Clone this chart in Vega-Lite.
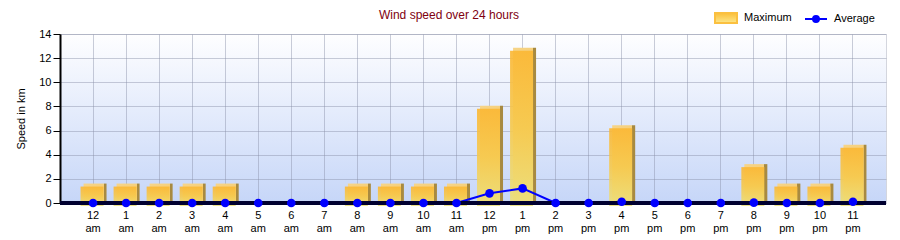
{
  "$schema": "https://vega.github.io/schema/vega-lite/v6.json",
  "width": 826,
  "height": 169,
  "autosize": {"type": "none"},
  "padding": {"left": 60, "top": 34, "right": 14, "bottom": 37},
  "background": "#ffffff",
  "config": {
    "font": "Liberation Sans",
    "view": {
      "stroke": "#d4d6de",
      "strokeWidth": 1,
      "fill": {"gradient": "linear", "x1": 0, "y1": 0, "x2": 0, "y2": 1,
        "stops": [{"offset": 0, "color": "#fefeff"}, {"offset": 1, "color": "#c6d6f8"}]}
    },
    "axisY": {
      "titleFontSize": 11, "titleFontWeight": "normal", "titleColor": "#000000", "titlePadding": 12,
      "labelFontSize": 11, "labelColor": "#000000", "labelPadding": 2, "labelOverlap": false,
      "tickSize": 7, "tickColor": "#000000", "domainColor": "#000000", "domainWidth": 2,
      "gridColor": "#8a90a8", "gridOpacity": 0.45, "gridWidth": 1
    }
  },
  "title": {
    "text": "Wind speed over 24 hours",
    "fontSize": 12,
    "fontWeight": "normal",
    "color": "#800010",
    "anchor": "middle",
    "dx": -24,
    "offset": -16
  },
  "data": {
    "values": [
      {"hour": "12 am", "max": 1.61, "avg": 0},
      {"hour": "1 am", "max": 1.61, "avg": 0},
      {"hour": "2 am", "max": 1.61, "avg": 0},
      {"hour": "3 am", "max": 1.61, "avg": 0},
      {"hour": "4 am", "max": 1.61, "avg": 0},
      {"hour": "5 am", "max": 0, "avg": 0},
      {"hour": "6 am", "max": 0, "avg": 0},
      {"hour": "7 am", "max": 0, "avg": 0},
      {"hour": "8 am", "max": 1.61, "avg": 0},
      {"hour": "9 am", "max": 1.61, "avg": 0},
      {"hour": "10 am", "max": 1.61, "avg": 0},
      {"hour": "11 am", "max": 1.61, "avg": 0},
      {"hour": "12 pm", "max": 8.05, "avg": 0.8},
      {"hour": "1 pm", "max": 12.87, "avg": 1.21},
      {"hour": "2 pm", "max": 0, "avg": 0},
      {"hour": "3 pm", "max": 0, "avg": 0},
      {"hour": "4 pm", "max": 6.44, "avg": 0.1},
      {"hour": "5 pm", "max": 0, "avg": 0},
      {"hour": "6 pm", "max": 0, "avg": 0},
      {"hour": "7 pm", "max": 0, "avg": 0},
      {"hour": "8 pm", "max": 3.22, "avg": 0.03},
      {"hour": "9 pm", "max": 1.61, "avg": 0},
      {"hour": "10 pm", "max": 1.61, "avg": 0},
      {"hour": "11 pm", "max": 4.83, "avg": 0.1}
    ]
  },
  "encoding": {
    "x": {
      "field": "hour", "type": "nominal",
      "scale": {"paddingInner": 0, "paddingOuter": 0.5,
        "domain": ["12 am", "1 am", "2 am", "3 am", "4 am", "5 am", "6 am", "7 am", "8 am", "9 am", "10 am", "11 am",
                   "12 pm", "1 pm", "2 pm", "3 pm", "4 pm", "5 pm", "6 pm", "7 pm", "8 pm", "9 pm", "10 pm", "11 pm"]},
      "axis": {
        "title": null, "labelAngle": 0, "ticks": false, "domain": false,
        "grid": true, "gridColor": "#8a90a8", "gridOpacity": 0.45, "gridWidth": 1, "bandPosition": 0.5,
        "labelExpr": "split(datum.label, ' ')",
        "labelFontSize": 11, "labelColor": "#000000", "labelLineHeight": 13,
        "labelPadding": 6
      }
    }
  },
  "layer": [
    {
      "transform": [{"filter": "datum.max > 0"}],
      "mark": {
        "type": "bar", "size": 23, "xOffset": 2,
        "fill": {"gradient": "linear", "x1": 0, "y1": 0, "x2": 1, "y2": 0,
          "stops": [
            {"offset": 0, "color": "#f6d488"},
            {"offset": 0.87, "color": "#f6d07c"},
            {"offset": 0.875, "color": "#a88a40"},
            {"offset": 1, "color": "#a88a40"}
          ]}
      },
      "encoding": {
        "y": {"field": "max", "type": "quantitative",
          "scale": {"domain": [0, 14], "nice": false},
          "axis": {"title": "Speed in km", "values": [0, 2, 4, 6, 8, 10, 12, 14]}
        }
      }
    },
    {
      "transform": [{"filter": "datum.max > 0"}],
      "mark": {
        "type": "bar", "size": 23, "xOffset": -1, "yOffset": 3, "fillOpacity": 0.9,
        "fill": {"gradient": "linear", "x1": 0, "y1": 0, "x2": 0, "y2": 1,
          "stops": [
            {"offset": 0, "color": "#fbb733"},
            {"offset": 0.5, "color": "#f6c94c"},
            {"offset": 1, "color": "#ebe07c"}
          ]}
      },
      "encoding": {"y": {"field": "max", "type": "quantitative",
        "axis": {"title": "Speed in km", "values": [0, 2, 4, 6, 8, 10, 12, 14]}}}
    },
    {
      "mark": {"type": "line", "strokeWidth": 2},
      "encoding": {
        "y": {"field": "avg", "type": "quantitative",
          "axis": {"title": "Speed in km", "values": [0, 2, 4, 6, 8, 10, 12, 14]}},
        "color": {
          "datum": "Average",
          "scale": {"domain": ["Maximum", "Average"], "range": ["#fbc040", "#0000ff"]},
          "legend": {
            "title": null, "orient": "none", "direction": "horizontal",
            "legendX": 654, "legendY": -28, "padding": 0,
            "symbolSize": 484, "labelFontSize": 11, "labelColor": "#000000",
            "labelOffset": 6, "columnPadding": 9,
            "encode": {
              "symbols": {
                "update": {
                  "shape": {"signal": "datum.value === 'Maximum' ? 'M-1,-0.45H1V0.45H-1Z' : 'M-1,0H1M0.27,0A0.27,0.27 0 1,1 -0.27,0A0.27,0.27 0 1,1 0.27,0'"},
                  "fill": {"signal": "datum.value === 'Maximum' ? {gradient: 'linear', x1: 0, y1: 0, x2: 0, y2: 1, stops: [{offset: 0, color: '#fbbf3a'}, {offset: 1, color: '#fce78a'}]} : '#0000ff'"},
                  "stroke": {"signal": "datum.value === 'Maximum' ? null : '#0000ff'"},
                  "strokeWidth": {"value": 2},
                  "opacity": {"value": 1},
                  "fillOpacity": {"value": 1}
                }
              }
            }
          }
        }
      }
    },
    {
      "mark": {"type": "rule", "color": "#000030", "strokeWidth": 2.5},
      "encoding": {"y": {"datum": 0,
        "axis": {"title": "Speed in km", "values": [0, 2, 4, 6, 8, 10, 12, 14]}},
        "x": {"value": 0}, "x2": {"value": 826}}
    },
    {
      "mark": {"type": "point", "filled": true, "size": 75, "color": "#0000ff", "opacity": 1},
      "encoding": {"y": {"field": "avg", "type": "quantitative",
        "axis": {"title": "Speed in km", "values": [0, 2, 4, 6, 8, 10, 12, 14]}}}
    }
  ]
}
